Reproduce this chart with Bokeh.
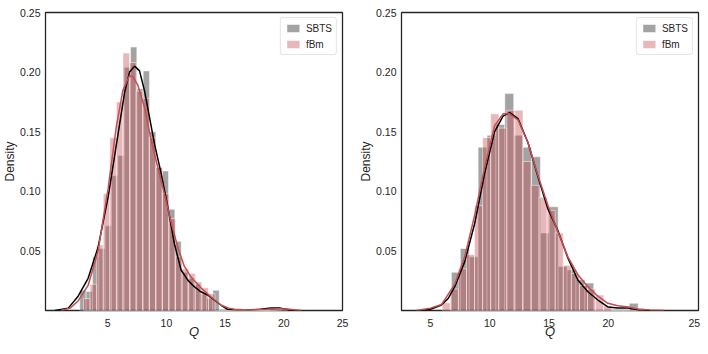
import numpy as np
from bokeh.plotting import figure
from bokeh.layouts import row
from bokeh.models import FixedTicker, PrintfTickFormatter, Range1d, Legend, LegendItem
from bokeh.embed import file_html
from bokeh.resources import INLINE

# ---------------- data: left panel ----------------
sbts_a_start, sbts_a_width = 2.62, 0.54
sbts_a_dens = [0.017, 0.016, 0.045, 0.052, 0.071, 0.113, 0.130, 0.204, 0.221, 0.186,
               0.201, 0.150, 0.120, 0.117, 0.085, 0.058, 0.032, 0.027, 0.022, 0.014,
               0.010, 0.017, 0, 0, 0, 0, 0, 0, 0, 0, 0.002]
fbm_a_start, fbm_a_width = 2.94, 0.56
fbm_a_dens = [0.010, 0.022, 0.055, 0.098, 0.145, 0.175, 0.216, 0.208, 0.184, 0.178,
              0.145, 0.120, 0.098, 0.077, 0.045, 0.035, 0.031, 0.024, 0.019, 0.014,
              0, 0, 0, 0, 0, 0, 0, 0, 0, 0, 0.001]
sbts_a_kde_q = [0.5, 1.64, 2.48, 3.33, 4.18, 5.03, 5.88, 6.44, 6.86, 7.29, 7.71, 8.14, 8.56,
                8.98, 9.55, 10.12, 10.68, 11.25, 11.82, 12.37, 12.94, 13.51, 14.07, 14.64,
                15.2, 16.0, 17.0, 18.0, 18.9, 19.7, 20.85]
sbts_a_kde_d = [0.0, 0.002, 0.012, 0.027, 0.053, 0.095, 0.148, 0.183, 0.200, 0.205, 0.201,
                0.184, 0.162, 0.140, 0.115, 0.087, 0.056, 0.034, 0.0255, 0.020, 0.0157,
                0.013, 0.0088, 0.0046, 0.001, 0.0005, 0.0005, 0.001, 0.002, 0.002, 0.0]
fbm_a_kde_q = [1.0, 1.8, 2.48, 3.33, 4.18, 5.03, 5.73, 6.30, 6.86, 7.15, 7.57, 8.14, 8.70,
               9.27, 9.83, 10.40, 10.97, 11.53, 12.1, 12.94, 13.79, 14.64, 15.3, 15.8, 17.0,
               18.5, 19.5, 20.5, 21.5]
fbm_a_kde_d = [0.0, 0.002, 0.008, 0.021, 0.050, 0.102, 0.154, 0.185, 0.197, 0.196, 0.189,
               0.170, 0.143, 0.120, 0.098, 0.074, 0.053, 0.037, 0.028, 0.019, 0.0115,
               0.0046, 0.002, 0.001, 0.0005, 0.001, 0.0015, 0.001, 0.0]

# ---------------- data: right panel ----------------
sbts_b_start, sbts_b_width = 6.77, 0.75
sbts_b_dens = [0.032, 0.052, 0.045, 0.137, 0.147, 0.156, 0.182, 0.147, 0.137, 0.129,
               0.065, 0.087, 0.037, 0.034, 0.026, 0.023, 0, 0, 0, 0, 0.006]
fbm_b_start, fbm_b_width = 6.0, 0.68
fbm_b_dens = [0.0065, 0.018, 0.035, 0.047, 0.088, 0.145, 0.165, 0.153, 0.168, 0.168,
              0.125, 0.105, 0.095, 0.084, 0.065, 0.038, 0.031, 0.021, 0.018, 0.013,
              0.004, 0, 0, 0, 0.002]
sbts_b_kde_q = [4.24, 5.0, 5.93, 6.49, 7.05, 7.89, 8.73, 9.57, 10.41, 11.12, 11.68, 12.38,
                13.22, 14.07, 14.91, 15.75, 16.59, 17.43, 18.27, 19.12, 19.96, 20.8, 21.7,
                22.6, 23.5]
sbts_b_kde_d = [0.0, 0.001, 0.0046, 0.010, 0.020, 0.041, 0.073, 0.115, 0.150, 0.163, 0.166,
                0.161, 0.141, 0.112, 0.085, 0.067, 0.044, 0.0255, 0.0157, 0.0088, 0.003,
                0.002, 0.002, 0.0005, 0.0]
fbm_b_kde_q = [3.8, 5.0, 5.93, 7.05, 7.89, 8.73, 9.57, 10.41, 11.12, 11.68, 12.38, 13.22,
               14.07, 14.91, 15.75, 16.59, 17.43, 18.27, 19.12, 19.96, 20.8, 21.7, 22.6,
               23.5, 24.7]
fbm_b_kde_d = [0.0, 0.002, 0.005, 0.022, 0.045, 0.080, 0.120, 0.155, 0.165, 0.165, 0.160,
               0.141, 0.113, 0.088, 0.066, 0.045, 0.030, 0.020, 0.012, 0.006, 0.004, 0.003,
               0.001, 0.0005, 0.0]

series_labels = ["SBTS", "fBm"]
x_tick_labels = ["5", "10", "15", "20", "25"]
x_ticks_a = [5, 10, 15, 20, 25]
x_ticks_b = [5, 10, 15, 20, 27.25]
y_ticks = [0.05, 0.10, 0.15, 0.20, 0.25]
x_label = "Q"
y_label = "Density"

GRAY = "#000000"
RED = "#c44e52"
FONT = "Liberation Sans"


def edges(start, width, n):
    left = start + width * np.arange(n)
    return left, left + width


def panel(x_range, x_ticks, sb, fb, sk, fk, width, border_left, border_right):
    p = figure(width=width, height=341, x_range=Range1d(*x_range),
               y_range=Range1d(0, 0.25), output_backend="svg", toolbar_location=None,
               min_border_left=border_left, min_border_right=border_right,
               min_border_top=12, min_border_bottom=26)
    p.grid.visible = False
    p.outline_line_color = "#262626"
    p.outline_line_width = 1.3
    p.background_fill_color = "white"
    p.border_fill_color = "white"

    l1, r1 = edges(*sb[:2], len(sb[2]))
    g1 = p.quad(left=l1, right=r1, top=sb[2], bottom=0, fill_color=GRAY, fill_alpha=0.36,
                line_color="white", line_alpha=0.5, line_width=1)
    l2, r2 = edges(*fb[:2], len(fb[2]))
    g2 = p.quad(left=l2, right=r2, top=fb[2], bottom=0, fill_color=RED, fill_alpha=0.4,
                line_color="white", line_alpha=0.5, line_width=1)
    p.line(sk[0], sk[1], line_color="black", line_width=1.5)
    p.line(fk[0], fk[1], line_color=RED, line_width=1.5)

    legend = Legend(items=[LegendItem(label=series_labels[0], renderers=[g1]),
                           LegendItem(label=series_labels[1], renderers=[g2])],
                    location="top_right", margin=5, padding=4, spacing=4,
                    glyph_width=16, glyph_height=10, label_standoff=5,
                    label_text_font=FONT, label_text_font_size="10px",
                    label_text_color="#262626", label_height=12,
                    border_line_color="#cccccc", border_line_width=1,
                    background_fill_alpha=0.85, border_radius=3)
    p.add_layout(legend)

    xl = {t: s for t, s in zip(x_ticks, x_tick_labels)}
    p.xaxis.ticker = FixedTicker(ticks=x_ticks)
    p.xaxis.major_label_overrides = xl
    p.yaxis.ticker = FixedTicker(ticks=y_ticks)
    p.yaxis.formatter = PrintfTickFormatter(format="%.2f")
    for ax in (p.xaxis[0], p.yaxis[0]):
        ax.axis_line_color = None
        ax.major_tick_line_color = None
        ax.minor_tick_line_color = None
        ax.major_tick_out = 0
        ax.major_tick_in = 0
        ax.minor_tick_out = 0
        ax.minor_tick_in = 0
        ax.major_label_text_font = FONT
        ax.major_label_text_font_size = "10.5px"
        ax.major_label_text_color = "#262626"
        ax.axis_label_text_font = FONT
        ax.axis_label_text_color = "#262626"
        ax.axis_label_text_font_size = "12px"
    p.xaxis.axis_label = x_label
    p.xaxis.axis_label_text_font_style = "italic"
    p.xaxis.axis_label_text_font_size = "13px"
    p.xaxis.major_label_standoff = 8
    p.xaxis.axis_label_standoff = -6
    p.yaxis.axis_label = y_label
    p.yaxis.axis_label_text_font_style = "normal"
    p.yaxis.major_label_standoff = 5
    p.yaxis.axis_label_standoff = 0
    return p


pa = panel((-0.3, 25.0), x_ticks_a,
           (sbts_a_start, sbts_a_width, sbts_a_dens), (fbm_a_start, fbm_a_width, fbm_a_dens),
           (sbts_a_kde_q, sbts_a_kde_d), (fbm_a_kde_q, fbm_a_kde_d), 356, 44, 14)
pb = panel((2.56, 27.6), x_ticks_b,
           (sbts_b_start, sbts_b_width, sbts_b_dens), (fbm_b_start, fbm_b_width, fbm_b_dens),
           (sbts_b_kde_q, sbts_b_kde_d), (fbm_b_kde_q, fbm_b_kde_d), 348, 44, 6)

layout = row(pa, pb)
open("out.html", "w").write(file_html(layout, INLINE))
